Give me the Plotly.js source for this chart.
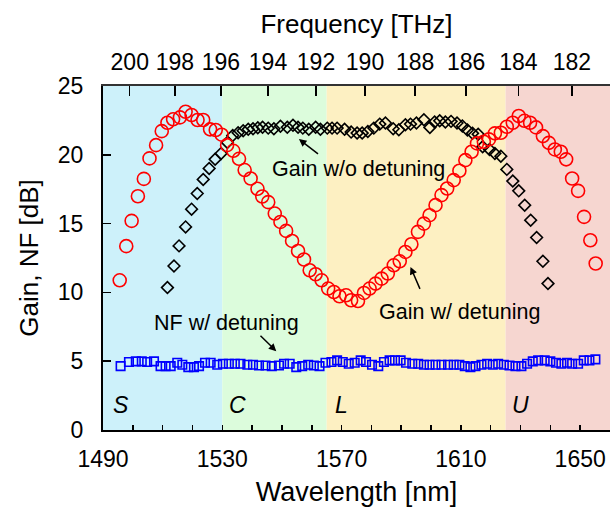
<!DOCTYPE html>
<html>
<head>
<meta charset="utf-8">
<script src="https://cdn.plot.ly/plotly-3.0.1.min.js"></script>
<style>html,body{margin:0;padding:0;background:#fff;}#chart{width:611px;height:514px;}</style>
</head>
<body>
<div id="chart"></div>
<script>
// ---- data ----
const gainDetunedWl = [1495.6,1497.8,1499.6,1501.7,1503.7,1505.6,1507.8,1509.7,1511.6,1513.5,1515.8,1517.7,1519.7,1521.7,1523.6,1525.9,1527.8,1529.8,1531.6,1533.7,1535.6,1537.5,1539.5,1541.8,1543.4,1545.4,1547.6,1549.5,1551.4,1553.4,1555.4,1557.4,1559.3,1561.3,1563.3,1565.5,1567.4,1569.3,1571.5,1573.2,1575.5,1577.5,1579.4,1581.4,1583.4,1585.5,1587.5,1589.5,1591.4,1593.4,1595.6,1597.6,1599.5,1601.5,1603.5,1605.4,1607.6,1609.5,1611.5,1613.6,1615.4,1617.7,1619.4,1621.4,1623.4,1625.4,1627.4,1629.4,1631.3,1633.2,1635.2,1637.5,1639.5,1641.5,1643.5,1645.3,1647.3,1649.3,1651.3,1653.4,1655.2];
const gainDetuned = [10.88,13.36,15.2,16.99,18.25,19.74,20.7,21.72,22.33,22.58,22.72,23.13,22.89,22.53,22.53,21.85,21.8,21.46,20.7,20.29,19.71,18.89,18.28,17.53,16.97,16.56,15.73,15.12,14.47,13.74,13.01,12.39,11.61,11.32,10.88,10.28,10.03,9.72,9.79,9.43,9.37,9.96,10.28,10.64,11.0,11.37,11.97,12.26,12.94,13.5,14.4,15.0,15.61,16.34,17.07,17.55,18.16,18.84,19.61,20.22,20.83,20.95,21.12,21.56,21.6,22.04,22.33,22.82,22.47,22.33,21.99,21.36,20.87,20.39,20.22,19.67,18.28,17.38,15.49,13.79,12.1];

const gainNoDetuneWl = [1511.6,1513.8,1515.5,1517.7,1519.7,1521.6,1523.6,1525.6,1527.6,1529.6,1531.7,1533.5,1535.3,1537.0,1538.7,1540.3,1541.9,1543.5,1545.4,1547.3,1549.5,1551.8,1553.7,1555.4,1557.0,1559.0,1561.3,1562.9,1565.2,1566.8,1568.5,1571.0,1573.2,1575.2,1576.9,1578.8,1580.8,1582.8,1584.7,1587.3,1589.2,1591.4,1593.1,1595.1,1597.6,1599.6,1601.2,1602.9,1604.8,1606.7,1608.7,1610.5,1612.2,1613.9,1615.8,1617.3,1619.6,1621.4,1623.4,1625.4,1627.4,1629.4,1631.4,1633.4,1635.4,1637.5,1639.2];
const gainNoDetune = [10.35,11.92,13.38,14.76,16.05,17.19,18.21,19.01,19.67,20.1,20.9,21.4,21.6,21.75,21.85,21.89,21.96,22.0,21.94,21.89,22.08,22.0,22.14,22.0,21.94,21.85,22.0,21.85,21.94,21.94,21.94,21.85,21.65,21.58,21.58,21.7,21.94,22.23,22.31,21.89,21.82,22.18,22.23,22.31,22.55,21.99,22.38,22.47,22.38,22.43,22.31,22.1,21.8,21.56,21.5,20.58,20.39,20.1,19.9,18.94,18.09,17.38,16.34,15.25,13.99,12.26,10.64];

const nfWl = [1495.9,1498.7,1501.0,1503.0,1504.8,1507.1,1509.3,1511.0,1512.7,1514.9,1516.6,1518.6,1520.5,1522.2,1524.2,1526.1,1528.3,1530.2,1532.2,1534.2,1536.1,1538.4,1540.3,1542.3,1544.5,1546.6,1549.0,1550.7,1552.6,1554.8,1556.8,1558.8,1560.7,1562.6,1564.6,1566.6,1568.5,1570.4,1572.4,1574.4,1576.4,1578.2,1580.2,1582.3,1584.2,1586.1,1587.9,1589.8,1591.6,1593.7,1595.7,1597.6,1599.5,1601.5,1603.5,1605.7,1607.6,1609.5,1611.3,1613.2,1614.9,1616.9,1618.8,1620.7,1622.5,1624.4,1626.3,1628.3,1630.3,1632.2,1634.1,1635.9,1638.1,1640.0,1641.9,1643.7,1645.6,1647.3,1649.3,1651.2,1653.1,1655.1];
const nf = [4.64,4.94,4.99,4.99,4.94,4.99,4.64,4.64,4.64,4.89,4.74,4.57,4.57,4.64,4.89,4.89,4.74,4.82,4.82,4.82,4.82,4.74,4.74,4.69,4.69,4.64,4.69,4.82,4.82,4.57,4.64,4.74,4.69,4.64,4.89,4.94,5.06,4.94,4.82,4.89,5.06,4.94,4.74,4.64,4.94,5.06,5.06,5.06,4.89,4.82,4.82,4.74,4.74,4.74,4.74,4.74,4.74,4.74,4.64,4.57,4.64,4.74,4.82,4.74,4.82,4.74,4.69,4.64,4.64,4.82,4.99,5.06,5.06,4.99,4.89,4.82,4.89,4.82,4.82,5.06,5.06,5.13];

const freqTicks = [200,198,196,194,192,190,188,186,184,182]; // THz
const bandNames = ["S","C","L","U"];
const bandEdges = [1490,1530,1565,1625,1660];
const bandColors = ["#cdf1fa","#dcfcdc","#fdf0c2","#f6d6d0"];
const xTickVals = [1490,1530,1570,1610,1650];
const yTickVals = [0,5,10,15,20,25];

// ---- build ----
const C_NM_THZ = 299792.458;
const FONT = "Arial, 'Liberation Sans', sans-serif";
const freqWl = freqTicks.map(f => C_NM_THZ / f);

const traces = [
  {x: gainNoDetuneWl, y: gainNoDetune, mode: "markers", type: "scatter", xaxis: "x", yaxis: "y",
   marker: {symbol: "diamond-open", size: 9, color: "#000", line: {width: 1.6, color: "#000"}}},
  {x: gainDetunedWl, y: gainDetuned, mode: "markers", type: "scatter",
   marker: {symbol: "circle-open", size: 13, color: "#ff0000", line: {width: 1.6, color: "#ff0000"}}},
  {x: nfWl, y: nf, mode: "markers", type: "scatter",
   marker: {symbol: "square-open", size: 8.5, color: "#0000ff", line: {width: 1.6, color: "#0000ff"}}},
  {x: freqWl, y: freqWl.map(() => null), mode: "markers", type: "scatter", xaxis: "x2", yaxis: "y",
   hoverinfo: "skip", showlegend: false}
];

const shapes = bandNames.map((n, i) => ({
  type: "rect", xref: "x", yref: "paper", x0: bandEdges[i], x1: bandEdges[i+1], y0: 0, y1: 1,
  fillcolor: bandColors[i], line: {width: 0}, layer: "below"
}));

const annotations = bandNames.map((n, i) => ({
  x: bandEdges[i] + (i === 0 ? 6 : 5), y: 1.8, xref: "x", yref: "y", text: n, showarrow: false,
  xanchor: "center", font: {family: FONT, size: 23, color: "#000", style: "italic"}
}));
annotations.push(
  {x: 1575.8, y: 18.96, xref: "x", yref: "y", text: "Gain w/o detuning", showarrow: false,
   font: {family: FONT, size: 21.5, color: "#000"}},
  {x: 1555.7, y: 21.14, ax: 1562.6, ay: 19.98, xref: "x", yref: "y", axref: "x", ayref: "y",
   text: "", showarrow: true, arrowhead: 2, arrowsize: 1, arrowwidth: 1.5, arrowcolor: "#000"},
  {x: 1609.6, y: 8.55, xref: "x", yref: "y", text: "Gain w/ detuning", showarrow: false,
   font: {family: FONT, size: 21.5, color: "#000"}},
  {x: 1593.1, y: 11.85, ax: 1596.5, ay: 10.15, xref: "x", yref: "y", axref: "x", ayref: "y",
   text: "", showarrow: true, arrowhead: 2, arrowsize: 1, arrowwidth: 1.5, arrowcolor: "#000"},
  {x: 1531.5, y: 7.75, xref: "x", yref: "y", text: "NF w/ detuning", showarrow: false,
   font: {family: FONT, size: 21.5, color: "#000"}},
  {x: 1548.1, y: 5.73, ax: 1542.3, ay: 6.95, xref: "x", yref: "y", axref: "x", ayref: "y",
   text: "", showarrow: true, arrowhead: 2, arrowsize: 1, arrowwidth: 1.5, arrowcolor: "#000"}
);

const layout = {
  width: 611, height: 514,
  margin: {l: 103, r: 1, t: 86, b: 84, pad: 0},
  paper_bgcolor: "#fff", plot_bgcolor: "#fff",
  showlegend: false,
  font: {family: FONT, color: "#000"},
  xaxis: {
    range: [1490, 1660], tickvals: xTickVals, ticks: "inside", ticklen: 5, tickwidth: 1.5, tickcolor: "#000",
    minor: {dtick: 10, tick0: 1490, ticks: "inside", ticklen: 5, tickwidth: 1.5, tickcolor: "#000"},
    showgrid: false, zeroline: false, showline: true, linecolor: "#000", linewidth: 2,
    tickfont: {family: FONT, size: 23, color: "#000"}, ticklabelstandoff: 7,
    title: {text: "Wavelength [nm]", font: {family: FONT, size: 27, color: "#000"}, standoff: 12}
  },
  xaxis2: {
    overlaying: "x", side: "top", anchor: "y", range: [1490, 1660],
    tickvals: freqWl, ticktext: freqTicks.map(String), ticks: "inside", ticklen: 10, tickwidth: 1.5, tickcolor: "#000",
    showgrid: false, zeroline: false, showline: true, linecolor: "#333", linewidth: 2,
    tickfont: {family: FONT, size: 23, color: "#000"}, ticklabelstandoff: 5,
    title: {text: "Frequency [THz]", font: {family: FONT, size: 26, color: "#000"}, standoff: 8}
  },
  yaxis: {
    range: [0, 25], tickvals: yTickVals, ticks: "inside", ticklen: 8, tickwidth: 1.5, tickcolor: "#000",
    showgrid: false, zeroline: false, showline: true, linecolor: "#000", linewidth: 2,
    tickfont: {family: FONT, size: 23, color: "#000"}, ticklabelstandoff: 13,
    title: {text: "Gain, NF [dB]", font: {family: FONT, size: 26, color: "#000"}, standoff: 12}
  },
  shapes: shapes,
  annotations: annotations
};

Plotly.newPlot("chart", traces, layout, {displayModeBar: false, staticPlot: true});
</script>
</body>
</html>
